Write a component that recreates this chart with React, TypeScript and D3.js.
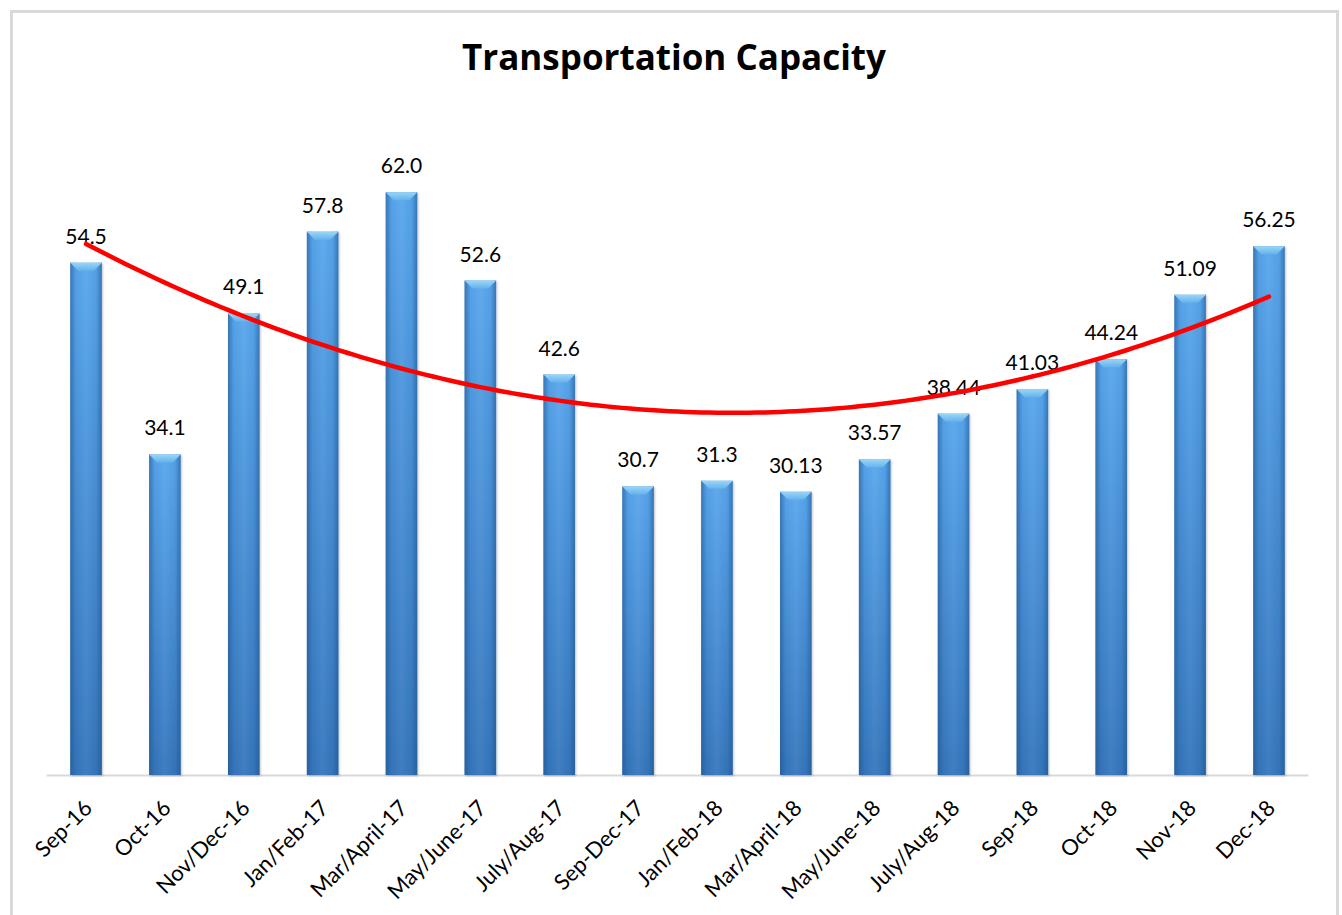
import React from "react";
import * as d3 from "d3";

const categories = [
  "Sep-16", "Oct-16", "Nov/Dec-16", "Jan/Feb-17", "Mar/April-17", "May/June-17",
  "July/Aug-17", "Sep-Dec-17", "Jan/Feb-18", "Mar/April-18", "May/June-18",
  "July/Aug-18", "Sep-18", "Oct-18", "Nov-18", "Dec-18",
];
const values = [54.5, 34.1, 49.1, 57.8, 62.0, 52.6, 42.6, 30.7, 31.3, 30.13, 33.57, 38.44, 41.03, 44.24, 51.09, 56.25];
const valueLabels = ["54.5", "34.1", "49.1", "57.8", "62.0", "52.6", "42.6", "30.7", "31.3", "30.13", "33.57", "38.44", "41.03", "44.24", "51.09", "56.25"];
const title = "Transportation Capacity";

const W = 1342;
const H = 915;
const FONT = "Lato, 'Open Sans', 'Liberation Sans', sans-serif";
const TITLE_FONT = "'Open Sans', 'Noto Sans', sans-serif";

// quadratic least-squares fit (Excel polynomial order 2 trendline)
function polyFit2(ys: number[]) {
  let s0 = 0, s1 = 0, s2 = 0, s3 = 0, s4 = 0, t0 = 0, t1 = 0, t2 = 0;
  ys.forEach((y, i) => {
    const x = i + 1;
    s0 += 1; s1 += x; s2 += x * x; s3 += x ** 3; s4 += x ** 4;
    t0 += y; t1 += x * y; t2 += x * x * y;
  });
  const M = [
    [s0, s1, s2, t0],
    [s1, s2, s3, t1],
    [s2, s3, s4, t2],
  ];
  for (let c = 0; c < 3; c++) {
    for (let r = c + 1; r < 3; r++) {
      const f = M[r][c] / M[c][c];
      for (let k = c; k < 4; k++) M[r][k] -= f * M[c][k];
    }
  }
  const sol = [0, 0, 0];
  for (let r = 2; r >= 0; r--) {
    let s = M[r][3];
    for (let k = r + 1; k < 3; k++) s -= M[r][k] * sol[k];
    sol[r] = s / M[r][r];
  }
  return (x: number) => sol[0] + sol[1] * x + sol[2] * x * x;
}

export default function App() {
  const x = d3
    .scaleBand<string>()
    .domain(categories)
    .range([46.6, 1308.4])
    .paddingInner(0.6)
    .paddingOuter(0.3);
  const y = d3.scaleLinear().domain([0, 70]).range([775, 117]);
  const bw = x.bandwidth();
  const fit = polyFit2(values);

  const xi = d3
    .scaleLinear()
    .domain([1, categories.length])
    .range([x(categories[0])! + bw / 2, x(categories[categories.length - 1])! + bw / 2]);
  const pts: [number, number][] = d3
    .range(1, categories.length + 0.001, 0.1)
    .map((t) => [xi(t), y(fit(t))]);
  const line = d3.line()(pts) || "";

  const bevel = 8;

  return (
    <svg
      width={W}
      height={H}
      style={{ position: "absolute", left: 0, top: 0, background: "#fff" }}
    >
      <defs>
        <linearGradient id="barV" x1="0" y1="0" x2="0" y2="1">
          <stop offset="0" stopColor="#57a5ec" />
          <stop offset="1" stopColor="#3475bb" />
        </linearGradient>
        <linearGradient id="barH" x1="0" y1="0" x2="1" y2="0">
          <stop offset="0" stopColor="#1f4f86" stopOpacity="0.55" />
          <stop offset="0.18" stopColor="#1f4f86" stopOpacity="0.05" />
          <stop offset="0.5" stopColor="#ffffff" stopOpacity="0.06" />
          <stop offset="0.82" stopColor="#1f4f86" stopOpacity="0.05" />
          <stop offset="1" stopColor="#1f4f86" stopOpacity="0.55" />
        </linearGradient>
        <linearGradient id="bevelG" x1="0" y1="0" x2="0" y2="1">
          <stop offset="0" stopColor="#9ad6f7" />
          <stop offset="1" stopColor="#64b2ec" />
        </linearGradient>
        <filter id="shadow" x="-20%" y="-5%" width="140%" height="110%">
          <feDropShadow dx="1" dy="1" stdDeviation="1.2" floodColor="#000" floodOpacity="0.25" />
        </filter>
      </defs>

      <rect x={11.5} y={11.5} width={1326} height={930} fill="#fff" stroke="#d9d9d9" strokeWidth={3} />

      <text
        x={674}
        y={70}
        textAnchor="middle"
        fontFamily={TITLE_FONT}
        fontWeight={700}
        fontSize={35}
        fill="#000"
      >
        {title}
      </text>

      <line x1={46.6} x2={1308.4} y1={775.5} y2={775.5} stroke="#d9d9d9" strokeWidth={2} />

      {categories.map((c, i) => {
        const x0 = x(c)!;
        const y0 = y(values[i]);
        const h = y(0) - y0;
        return (
          <g key={c}>
            <g filter="url(#shadow)">
              <rect x={x0} y={y0} width={bw} height={h} fill="url(#barV)" />
            </g>
            <rect x={x0} y={y0} width={bw} height={h} fill="url(#barH)" />
            <path
              d={`M${x0},${y0} L${x0 + bw},${y0} L${x0 + bw - bevel},${y0 + bevel} L${x0 + bevel},${y0 + bevel} Z`}
              fill="url(#bevelG)"
            />
            <text
              x={x0 + bw / 2}
              y={y0 - 19}
              textAnchor="middle"
              fontFamily={FONT}
              fontSize={21}
              fill="#000"
            >
              {valueLabels[i]}
            </text>
            <text
              transform={`translate(${x0 + bw / 2 - 5},${797}) rotate(-45)`}
              textAnchor="end"
              dominantBaseline="hanging"
              fontFamily={FONT}
              fontSize={22}
              fill="#000"
            >
              {c}
            </text>
          </g>
        );
      })}

      <path d={line} fill="none" stroke="#ff0000" strokeWidth={4.5} strokeLinecap="round" />
    </svg>
  );
}
